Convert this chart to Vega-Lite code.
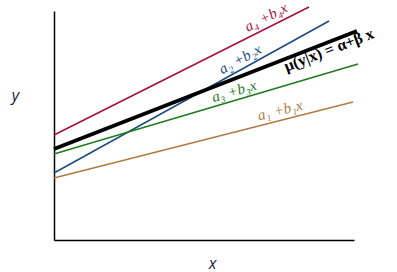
{
  "$schema": "https://vega.github.io/schema/vega-lite/v6.json",
  "width": 300,
  "height": 229,
  "autosize": "none",
  "padding": {"left": 54, "top": 11, "right": 43, "bottom": 32},
  "background": "white",
  "config": {"view": {"stroke": null}},
  "datasets": {
    "lines": [
      {"series": "a4", "x": 0, "y": 105}, {"series": "a4", "x": 255, "y": 233},
      {"series": "a2", "x": 0, "y": 67}, {"series": "a2", "x": 275, "y": 219},
      {"series": "mu", "x": 0, "y": 91}, {"series": "mu", "x": 303, "y": 209},
      {"series": "a3", "x": 0, "y": 86}, {"series": "a3", "x": 304, "y": 176},
      {"series": "a1", "x": 0, "y": 62}, {"series": "a1", "x": 299, "y": 138}
    ],
    "labels": [
      {"series": "a4", "label": "a₄ +b₄x", "x": 212, "y": 223},
      {"series": "a2", "label": "a₂ +b₂x", "x": 186, "y": 181},
      {"series": "mu", "label": "μ(y|x) = α+β x", "x": 275, "y": 190},
      {"series": "a3", "label": "a₃ +b₃x", "x": 180, "y": 149},
      {"series": "a1", "label": "a₁ +b₁x", "x": 226, "y": 130}
    ]
  },
  "layer": [
    {
      "data": {"name": "lines"},
      "transform": [{"filter": "datum.series !== 'mu'"}],
      "mark": {"type": "line", "strokeWidth": 1.5, "clip": false},
      "encoding": {
        "x": {"field": "x", "type": "quantitative", "scale": {"domain": [0, 300], "nice": false},
          "axis": {"title": "x", "labels": false, "ticks": false, "grid": false, "domainColor": "black", "domainWidth": 1.5,
            "titleFont": "Open Sans", "titleFontStyle": "italic", "titleFontWeight": "normal", "titleFontSize": 16, "titleColor": "#1a1a40",
            "titleX": 158, "titleY": 23, "titleAlign": "center", "titleBaseline": "middle"}},
        "y": {"field": "y", "type": "quantitative", "scale": {"domain": [0, 229], "nice": false},
          "axis": {"title": "y", "labels": false, "ticks": false, "grid": false, "domainColor": "black", "domainWidth": 1.5,
            "titleFont": "Open Sans", "titleFontStyle": "italic", "titleFontWeight": "normal", "titleFontSize": 16, "titleColor": "#1a1a40",
            "titleAngle": 0, "titleX": -39, "titleY": 84, "titleAlign": "center", "titleBaseline": "middle"}},
        "detail": {"field": "series"},
        "color": {"field": "series", "type": "nominal", "legend": null,
          "scale": {"domain": ["a1", "a2", "a3", "a4", "mu"], "range": ["#b07a45", "#1b4b80", "#1e7a1e", "#a50f3c", "#000000"]}}
      }
    },
    {
      "data": {"name": "lines"},
      "transform": [{"filter": "datum.series === 'mu'"}],
      "mark": {"type": "line", "strokeWidth": 4, "color": "black", "clip": false},
      "encoding": {
        "x": {"field": "x", "type": "quantitative"},
        "y": {"field": "y", "type": "quantitative"}
      }
    },
    {
      "data": {"name": "labels"},
      "transform": [{"filter": "datum.series === 'a4'"}],
      "mark": {"type": "text", "angle": -27, "font": "Liberation Serif", "fontStyle": "italic", "fontSize": 15, "align": "center", "baseline": "middle"},
      "encoding": {"x": {"field": "x", "type": "quantitative"}, "y": {"field": "y", "type": "quantitative"}, "text": {"field": "label"},
        "color": {"field": "series", "type": "nominal", "legend": null}}
    },
    {
      "data": {"name": "labels"},
      "transform": [{"filter": "datum.series === 'a2'"}],
      "mark": {"type": "text", "angle": -29, "font": "Liberation Serif", "fontStyle": "italic", "fontSize": 15, "align": "center", "baseline": "middle"},
      "encoding": {"x": {"field": "x", "type": "quantitative"}, "y": {"field": "y", "type": "quantitative"}, "text": {"field": "label"},
        "color": {"field": "series", "type": "nominal", "legend": null}}
    },
    {
      "data": {"name": "labels"},
      "transform": [{"filter": "datum.series === 'mu'"}],
      "mark": {"type": "text", "angle": -21, "font": "Liberation Serif", "fontWeight": "bold", "fontSize": 16, "align": "center", "baseline": "middle"},
      "encoding": {"x": {"field": "x", "type": "quantitative"}, "y": {"field": "y", "type": "quantitative"}, "text": {"field": "label"},
        "color": {"field": "series", "type": "nominal", "legend": null}}
    },
    {
      "data": {"name": "labels"},
      "transform": [{"filter": "datum.series === 'a3'"}],
      "mark": {"type": "text", "angle": -16.5, "font": "Liberation Serif", "fontStyle": "italic", "fontSize": 15, "align": "center", "baseline": "middle"},
      "encoding": {"x": {"field": "x", "type": "quantitative"}, "y": {"field": "y", "type": "quantitative"}, "text": {"field": "label"},
        "color": {"field": "series", "type": "nominal", "legend": null}}
    },
    {
      "data": {"name": "labels"},
      "transform": [{"filter": "datum.series === 'a1'"}],
      "mark": {"type": "text", "angle": -14, "font": "Liberation Serif", "fontStyle": "italic", "fontSize": 15, "align": "center", "baseline": "middle"},
      "encoding": {"x": {"field": "x", "type": "quantitative"}, "y": {"field": "y", "type": "quantitative"}, "text": {"field": "label"},
        "color": {"field": "series", "type": "nominal", "legend": null}}
    }
  ]
}
